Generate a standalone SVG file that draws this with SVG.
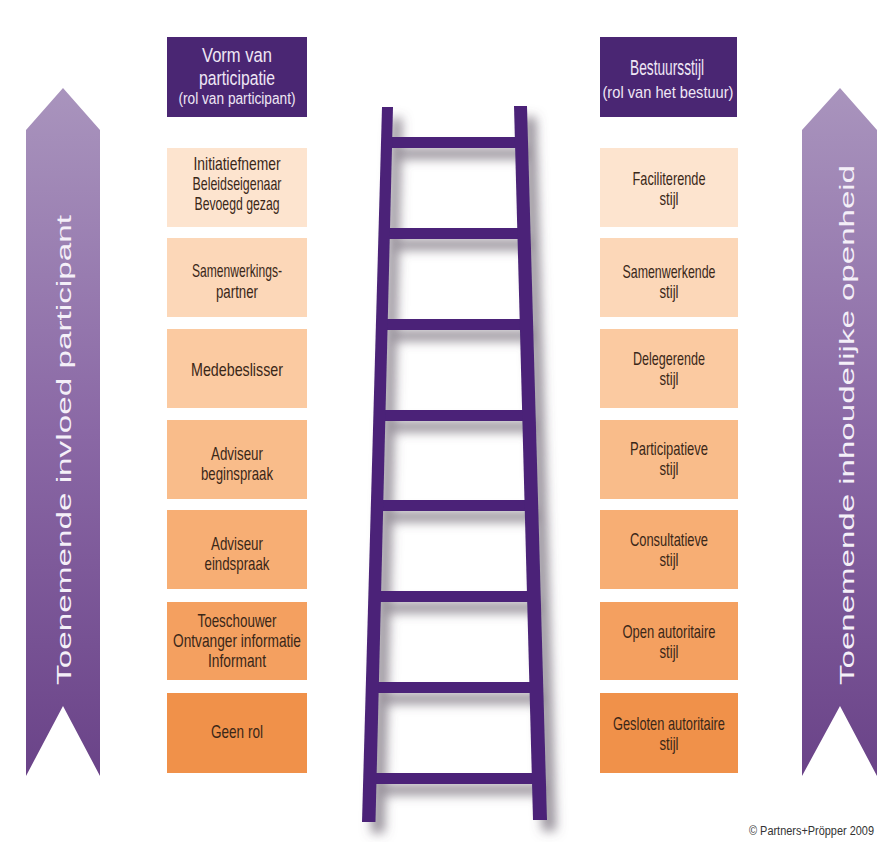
<svg xmlns="http://www.w3.org/2000/svg" width="877" height="842" viewBox="0 0 877 842">
<defs>
<linearGradient id="arrowGrad" x1="0" y1="0" x2="0" y2="1">
<stop offset="0" stop-color="#a994bd"/>
<stop offset="0.5" stop-color="#8a68a5"/>
<stop offset="1" stop-color="#6a4388"/>
</linearGradient>
<filter id="ladderShadow" x="-20%" y="-10%" width="150%" height="130%">
<feDropShadow dx="9" dy="11" stdDeviation="5.5" flood-color="#5e5563" flood-opacity="0.65"/>
</filter>
</defs>
<style>
.hdr{fill:#4a2673}
.hdrTxt{font-family:"Liberation Sans Narrow","Liberation Sans",Arial,sans-serif;fill:#efe7f5;text-anchor:middle}
.boxTxt{font-family:"Liberation Sans Narrow","Liberation Sans",Arial,sans-serif;font-size:18.5px;fill:#3a2718;text-anchor:middle}
.arrowTxt{font-family:"Liberation Sans",Arial,sans-serif;font-size:20px;fill:#f4eff8;text-anchor:middle}
.rail{fill:#4b2478}
.c1{fill:#fde4cf}.c2{fill:#fcd7b8}.c3{fill:#fbcaa1}.c4{fill:#f9bc8a}.c5{fill:#f7ae74}.c6{fill:#f4a060}.c7{fill:#f0914a}
</style>
<rect width="877" height="842" fill="#ffffff"/>

<g id="arrow-left">
<polygon points="63,88 100,130 100,776 63,706 26,776 26,130" fill="url(#arrowGrad)"/>
<text class="arrowTxt" transform="translate(71,450) rotate(-90)" x="0" y="0" textLength="470" lengthAdjust="spacingAndGlyphs">Toenemende invloed participant</text>
</g>
<g id="arrow-right">
<polygon points="840,88 877,130 877,776 840,706 802,776 802,130" fill="url(#arrowGrad)"/>
<text class="arrowTxt" transform="translate(854,425) rotate(-90)" x="0" y="0" textLength="520" lengthAdjust="spacingAndGlyphs">Toenemende inhoudelijke openheid</text>
</g>

<g id="header-left">
<rect class="hdr" x="167" y="37" width="140" height="80"/>
<text class="hdrTxt" x="237" y="62" font-size="20.5" textLength="70" lengthAdjust="spacingAndGlyphs">Vorm van</text>
<text class="hdrTxt" x="237" y="85" font-size="20.5" textLength="76" lengthAdjust="spacingAndGlyphs">participatie</text>
<text class="hdrTxt" x="237" y="104" font-size="16" textLength="117" lengthAdjust="spacingAndGlyphs">(rol van participant)</text>
</g>
<g id="header-right">
<rect class="hdr" x="600" y="37" width="137" height="80"/>
<text class="hdrTxt" x="667" y="75" font-size="22" textLength="74" lengthAdjust="spacingAndGlyphs">Bestuursstijl</text>
<text class="hdrTxt" x="668" y="98" font-size="17" textLength="131" lengthAdjust="spacingAndGlyphs">(rol van het bestuur)</text>
</g>

<g id="left-1"><rect class="c1" x="167" y="148" width="140" height="79"/>
<text class="boxTxt" x="237" y="170" textLength="87" lengthAdjust="spacingAndGlyphs">Initiatiefnemer</text>
<text class="boxTxt" x="237" y="190" textLength="89" lengthAdjust="spacingAndGlyphs">Beleidseigenaar</text>
<text class="boxTxt" x="237" y="210" textLength="85" lengthAdjust="spacingAndGlyphs">Bevoegd gezag</text></g>
<g id="left-2"><rect class="c2" x="167" y="238" width="140" height="79"/>
<text class="boxTxt" x="237" y="277" textLength="90" lengthAdjust="spacingAndGlyphs">Samenwerkings-</text>
<text class="boxTxt" x="237" y="298" textLength="42" lengthAdjust="spacingAndGlyphs">partner</text></g>
<g id="left-3"><rect class="c3" x="167" y="329" width="140" height="79"/>
<text class="boxTxt" x="237" y="376" textLength="92" lengthAdjust="spacingAndGlyphs">Medebeslisser</text></g>
<g id="left-4"><rect class="c4" x="167" y="420" width="140" height="79"/>
<text class="boxTxt" x="237" y="460" textLength="52" lengthAdjust="spacingAndGlyphs">Adviseur</text>
<text class="boxTxt" x="237" y="480" textLength="72" lengthAdjust="spacingAndGlyphs">beginspraak</text></g>
<g id="left-5"><rect class="c5" x="167" y="510" width="140" height="79"/>
<text class="boxTxt" x="237" y="550" textLength="52" lengthAdjust="spacingAndGlyphs">Adviseur</text>
<text class="boxTxt" x="237" y="570" textLength="65" lengthAdjust="spacingAndGlyphs">eindspraak</text></g>
<g id="left-6"><rect class="c6" x="167" y="602" width="140" height="78"/>
<text class="boxTxt" x="237" y="627" textLength="79" lengthAdjust="spacingAndGlyphs">Toeschouwer</text>
<text class="boxTxt" x="237" y="647" textLength="128" lengthAdjust="spacingAndGlyphs">Ontvanger informatie</text>
<text class="boxTxt" x="237" y="667" textLength="58" lengthAdjust="spacingAndGlyphs">Informant</text></g>
<g id="left-7"><rect class="c7" x="167" y="693" width="140" height="80"/>
<text class="boxTxt" x="237" y="738" textLength="52" lengthAdjust="spacingAndGlyphs">Geen rol</text></g>

<g id="right-1"><rect class="c1" x="600" y="148" width="138" height="79"/>
<text class="boxTxt" x="669" y="185" textLength="73" lengthAdjust="spacingAndGlyphs">Faciliterende</text>
<text class="boxTxt" x="669" y="205" textLength="19" lengthAdjust="spacingAndGlyphs">stijl</text></g>
<g id="right-2"><rect class="c2" x="600" y="238" width="138" height="79"/>
<text class="boxTxt" x="669" y="278" textLength="93" lengthAdjust="spacingAndGlyphs">Samenwerkende</text>
<text class="boxTxt" x="669" y="298" textLength="19" lengthAdjust="spacingAndGlyphs">stijl</text></g>
<g id="right-3"><rect class="c3" x="600" y="329" width="138" height="79"/>
<text class="boxTxt" x="669" y="365" textLength="72" lengthAdjust="spacingAndGlyphs">Delegerende</text>
<text class="boxTxt" x="669" y="385" textLength="19" lengthAdjust="spacingAndGlyphs">stijl</text></g>
<g id="right-4"><rect class="c4" x="600" y="420" width="138" height="79"/>
<text class="boxTxt" x="669" y="455" textLength="78" lengthAdjust="spacingAndGlyphs">Participatieve</text>
<text class="boxTxt" x="669" y="475" textLength="19" lengthAdjust="spacingAndGlyphs">stijl</text></g>
<g id="right-5"><rect class="c5" x="600" y="510" width="138" height="79"/>
<text class="boxTxt" x="669" y="546" textLength="78" lengthAdjust="spacingAndGlyphs">Consultatieve</text>
<text class="boxTxt" x="669" y="566" textLength="19" lengthAdjust="spacingAndGlyphs">stijl</text></g>
<g id="right-6"><rect class="c6" x="600" y="602" width="138" height="78"/>
<text class="boxTxt" x="669" y="638" textLength="93" lengthAdjust="spacingAndGlyphs">Open autoritaire</text>
<text class="boxTxt" x="669" y="658" textLength="19" lengthAdjust="spacingAndGlyphs">stijl</text></g>
<g id="right-7"><rect class="c7" x="600" y="693" width="138" height="80"/>
<text class="boxTxt" x="669" y="730" textLength="112" lengthAdjust="spacingAndGlyphs">Gesloten autoritaire</text>
<text class="boxTxt" x="669" y="750" textLength="19" lengthAdjust="spacingAndGlyphs">stijl</text></g>

<g id="ladder" filter="url(#ladderShadow)">
<rect class="rail" x="386" y="137" width="136" height="11"/>
<rect class="rail" x="384" y="228" width="140" height="11"/>
<rect class="rail" x="381.5" y="319" width="145" height="11"/>
<rect class="rail" x="379" y="410" width="150" height="11"/>
<rect class="rail" x="377" y="500" width="154.5" height="11"/>
<rect class="rail" x="374.5" y="591" width="159.5" height="11"/>
<rect class="rail" x="372" y="682" width="164.5" height="11"/>
<rect class="rail" x="369.5" y="773" width="169.5" height="11"/>
<polygon class="rail" points="382,107 393,107 375.5,822 362,822"/>
<polygon class="rail" points="514,106 527,106 547,820 533,820"/>
</g>

<g id="connectors"/>

<g id="copyright">
<text x="874" y="835" text-anchor="end" font-family="Liberation Sans Narrow, Liberation Sans, Arial, sans-serif" font-size="12.5" fill="#333333" textLength="125" lengthAdjust="spacingAndGlyphs">© Partners+Pröpper 2009</text>
</g>
</svg>
